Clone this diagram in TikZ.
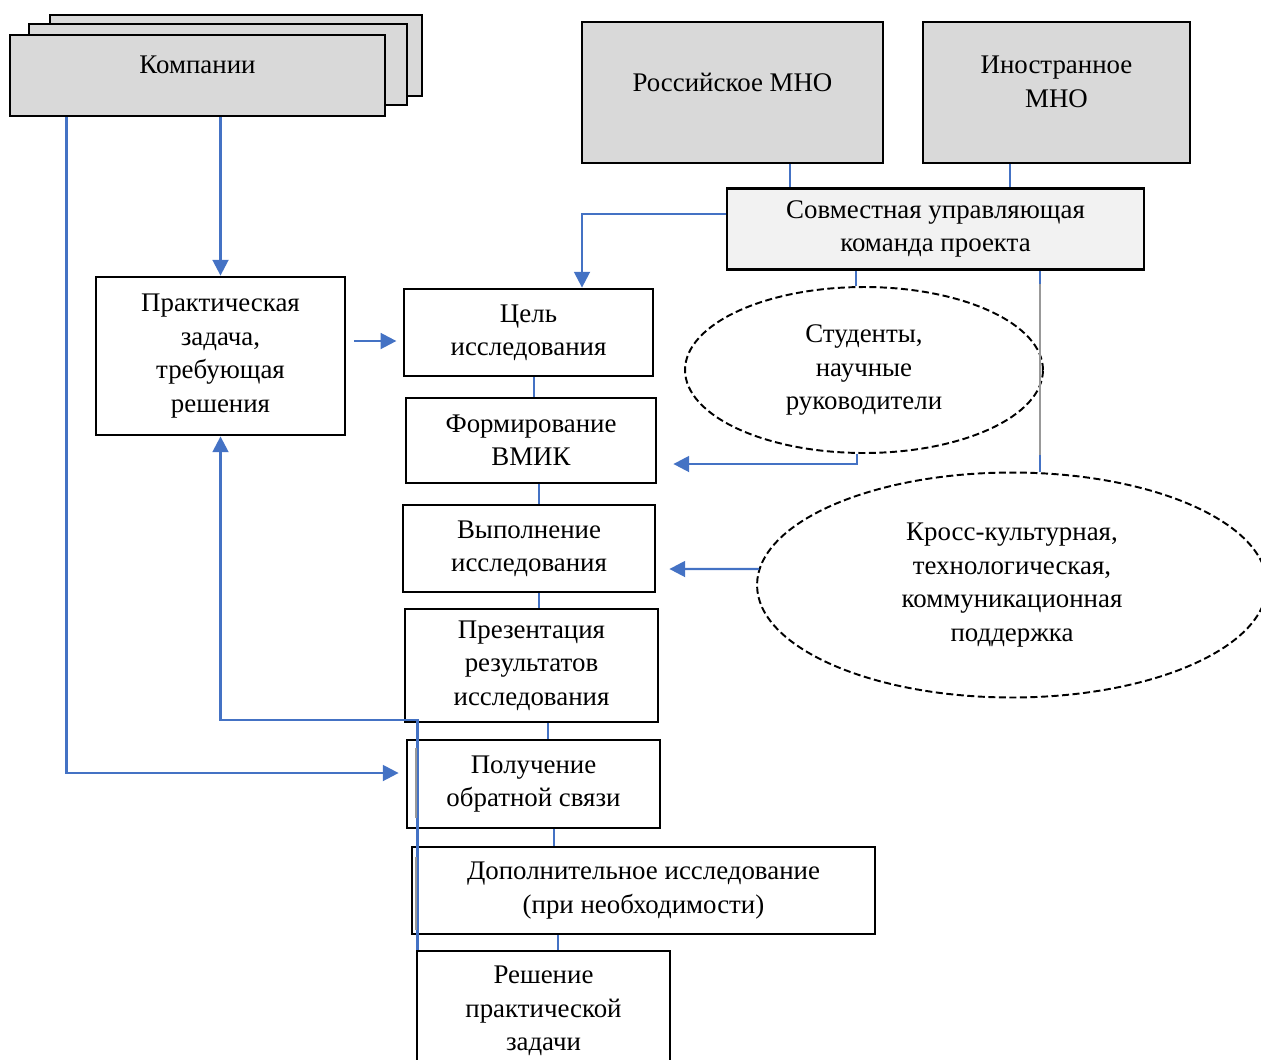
\documentclass[tikz,border=0pt]{standalone}
\usepackage{fontspec}
\setmainfont{Liberation Serif}
\usepackage{tikz}
\usetikzlibrary{arrows.meta,calc,shapes.geometric}

\definecolor{linkblue}{HTML}{4472C4}
\definecolor{boxgray}{HTML}{D9D9D9}
\definecolor{teamgray}{HTML}{F2F2F2}

\begin{document}
\begin{tikzpicture}[x=0.02cm, y=-0.02cm, font=\fontsize{15.3}{19}\selectfont,
	box/.style={draw, line width=1.6pt, align=center, inner sep=0pt},
	oval/.style={draw, ellipse, line width=1.1pt, dash pattern=on 4pt off 2pt, align=center, inner sep=0pt},
	link/.style={draw=linkblue, line width=1.4pt, -{Triangle[length=9pt,width=9pt]}},
	joinline/.style={draw=linkblue, line width=1.4pt},
	grayline/.style={draw=black!40, line width=1.4pt}]

\useasboundingbox (0,0) rectangle (1261,1059);

\node[box, fill=boxgray, minimum width=7.44cm, minimum height=1.62cm] (kompC) at (236,55.5) {};
\node[box, fill=boxgray, minimum width=7.56cm, minimum height=1.62cm] (kompB) at (218,64.5) {};
\node[box, fill=boxgray, minimum width=7.5cm, minimum height=1.62cm, label={[yshift=0.21cm]center:Компании}] (komp) at (197.5,75.5) {};

\node[box, fill=boxgray, minimum width=6.02cm, minimum height=2.82cm, label={[yshift=0.21cm]center:Российское МНО}] (ros) at (732.5,92.5) {};
\node[box, fill=boxgray, minimum width=5.34cm, minimum height=2.82cm, label={[yshift=0.21cm, align=center]center:Иностранное\\МНО}] (inos) at (1056.5,92.5) {};
\node[box, fill=teamgray, minimum width=8.34cm, minimum height=1.62cm] (sovm) at (935.5,229) {Совместная управляющая\\команда проекта};

\node[box, minimum width=4.98cm, minimum height=3.16cm] (prakt) at (220.5,356) {Практическая\\задача,\\требующая\\решения};
\node[box, minimum width=4.98cm, minimum height=1.74cm] (cel) at (528.5,332.5) {Цель\\исследования};
\node[box, minimum width=5cm, minimum height=1.7cm] (form) at (531,440.5) {Формирование\\ВМИК};
\node[box, minimum width=5.04cm, minimum height=1.74cm] (vyp) at (529,548.5) {Выполнение\\исследования};
\node[box, minimum width=5.06cm, minimum height=2.26cm] (prez) at (531.5,665.5) {Презентация\\результатов\\исследования};
\node[box, minimum width=5.06cm, minimum height=1.76cm] (poluch) at (533.5,784) {Получение\\обратной связи};
\node[box, minimum width=9.26cm, minimum height=1.74cm] (dop) at (643.5,890.5) {Дополнительное исследование\\(при необходимости)};
\node[box, minimum width=5.06cm, minimum height=2.4cm] (resh) at (543.5,1011) {Решение\\практической\\задачи};

\node[oval, minimum width=7.16cm, minimum height=3.32cm] (stud) at (864,370) {Студенты,\\научные\\руководители};
\node[oval, minimum width=10.2cm, minimum height=4.5cm] (kross) at (1012,585) {Кросс-культурная,\\технологическая,\\коммуникационная\\поддержка};

\draw[link] (komp.south -| prakt.north) -- (prakt.north);
\draw[link] ($(komp.south west)+(58,0)$) |- ($(poluch.west)+(-7,-11)$);
\draw[link] ($(prakt.east)+(8,-15)$) -- ++(42,0);
\draw[link] ($(sovm.west)+(0,-15)$) -| ($(cel.north)+(53.5,0)$);

\coordinate (r1) at ($(ros.south)+(57.5,0)$);
\coordinate (i1) at ($(inos.south)+(-46.5,0)$);
\coordinate (s1) at ($(sovm.south)+(-79.5,0)$);
\coordinate (s2) at ($(sovm.south)+(104.5,0)$);
\draw[joinline] (r1) -- (r1 |- sovm.north);
\draw[joinline] (i1) -- (i1 |- sovm.north);
\draw[joinline] (s1) -- (s1 |- stud.north);
\draw[joinline] (s2) -- (s2 |- kross.north);
\draw[grayline] (s2 |- 0,284) -- (s2 |- 0,455);

\draw[link] ($(stud.south)+(-7,0)$) |- ($(form.east)+(16,23.5)$);
\draw[link] ($(kross.west)+(3,-16)$) -- ($(vyp.east)+(13,20.5)$);

\foreach \a/\b/\x in {cel/form/534, form/vyp/539, vyp/prez/539, prez/poluch/548, poluch/dop/554, dop/resh/558}{
	\draw[joinline] (\x,0 |- \a.south) -- (\x,0 |- \b.north);
}

\coordinate (fb) at ($(resh.north west)+(2,0)$);
\draw[link] (fb) -- (fb |- 0,720) -| (prakt.south);
\draw[grayline] (416,748) -- (416,818);
\draw[grayline] (416,857) -- (416,930);

\end{tikzpicture}
\end{document}
